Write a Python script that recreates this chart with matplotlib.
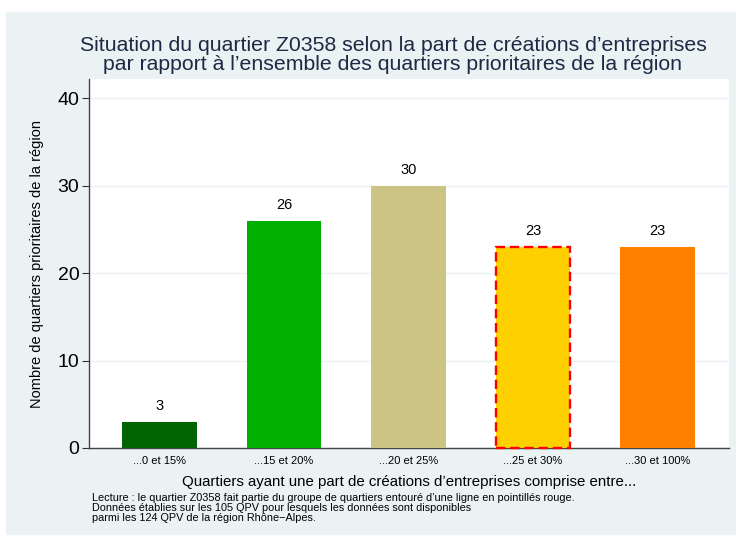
import matplotlib.pyplot as plt

plt.rcParams['font.family'] = ['Liberation Sans', 'DejaVu Sans']

categories = ['...0 et 15%', '...15 et 20%', '...20 et 25%', '...25 et 30%', '...30 et 100%']
counts = [3, 26, 30, 23, 23]
colors = ['#006400', '#00B000', '#CCC484', '#FFD000', '#FF8000']
highlight = 3

bg = '#EAF2F3'
navy = '#1E2A45'

fig = plt.figure(figsize=(7.36, 5.42), dpi=100)
fig.patches.append(plt.Rectangle((6 / 736, 8 / 542), 1, 1 - 20 / 542,
                                 transform=fig.transFigure, color=bg, zorder=-10))
ax = fig.add_axes([89 / 736, 1 - 448 / 542, 640 / 736, 369 / 542])

x = range(len(categories))
bars = ax.bar(x, counts, width=0.6, color=colors, zorder=3)
b = bars[highlight]
b.set_edgecolor('red')
b.set_linestyle((0, (4, 2)))
b.set_linewidth(1.7)
b.set_clip_on(False)
b.set_zorder(4)

for i, v in enumerate(counts):
    ax.text(i, v + 1.0, str(v), ha='center', va='bottom', fontsize=10.5, color='black')

ax.set_xlim(-0.566, 4.574)
ax.set_ylim(0, 42.2)
ax.set_yticks([0, 10, 20, 30, 40])
ax.set_xticks(list(x))
ax.set_xticklabels(categories, fontsize=8)
ax.tick_params(axis='y', labelsize=14, length=5, color='#333333', pad=2)
ax.tick_params(axis='x', length=0, pad=6)
ax.grid(axis='y', color=bg, linewidth=1, zorder=0)
for s in ['top', 'right']:
    ax.spines[s].set_visible(False)
for s in ['left', 'bottom']:
    ax.spines[s].set_color('#444444')
    ax.spines[s].set_linewidth(1)
    ax.spines[s].set_zorder(2)

ax.set_ylabel('Nombre de quartiers prioritaires de la région', fontsize=10.5, labelpad=10)
ax.set_xlabel('Quartiers ayant une part de créations d’entreprises comprise entre...',
              fontsize=10.8, labelpad=6)

fig.text(393 / 736, 1 - 55 / 542,
         'Situation du quartier Z0358 selon la part de créations d’entreprises\n'
         'par rapport à l’ensemble des quartiers prioritaires de la région',
         ha='center', va='center', fontsize=15.3, color=navy, linespacing=0.95)

fig.text(92 / 736, 1 - 493 / 542,
         'Lecture : le quartier Z0358 fait partie du groupe de quartiers entouré d’une ligne en pointillés rouge.\n'
         'Données établies sur les 105 QPV pour lesquels les données sont disponibles\n'
         'parmi les 124 QPV de la région Rhône−Alpes.',
         ha='left', va='top', fontsize=7.8, linespacing=1.02)

fig.savefig('out.png', dpi=100)
